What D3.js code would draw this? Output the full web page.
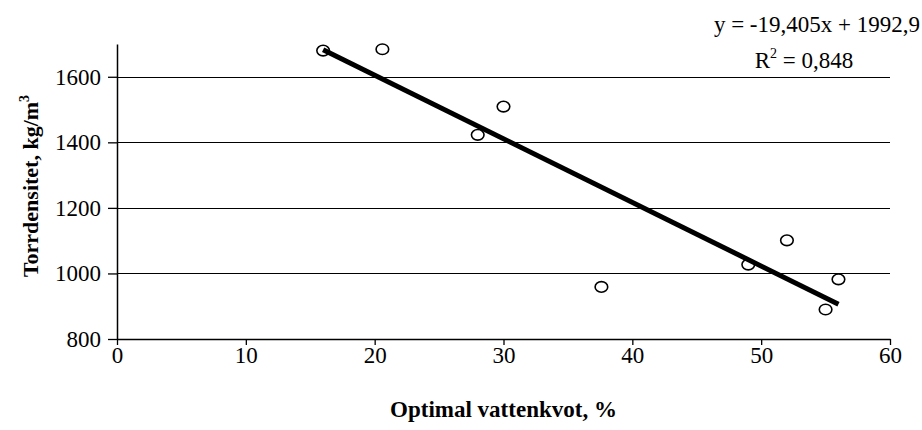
<!DOCTYPE html>
<html>
<head>
<meta charset="utf-8">
<script src="https://cdn.jsdelivr.net/npm/d3@7"></script>
<style>
  body { margin: 0; background: #fff; }
  svg { display: block; }
  text { font-family: "Liberation Serif", "Times New Roman", serif; fill: #000; }
</style>
</head>
<body>
<div id="chart"></div>
<script>
// measured points: optimal water ratio (%) vs dry density (kg/m3)
const vattenkvot = [16, 20.6, 28, 30, 37.6, 49, 52, 55, 56];
const torrdensitet = [1680, 1684, 1423, 1509, 959, 1027, 1101, 890, 982];

// trendline as printed on the chart
const slope = -19.405;
const intercept = 1992.9;
const eqLabel = "y = -19,405x + 1992,9";
const r2Label = "0,848";

const xTicks = [0, 10, 20, 30, 40, 50, 60];
const yTicks = [800, 1000, 1200, 1400, 1600];

const W = 922, H = 430;
const margin = {top: 44, right: 32, bottom: 91, left: 117};
const width = W - margin.left - margin.right;
const height = H - margin.top - margin.bottom;

const svg = d3.select("#chart").append("svg")
  .attr("width", W)
  .attr("height", H);

const g = svg.append("g")
  .attr("transform", `translate(${margin.left},${margin.top})`);

const x = d3.scaleLinear().domain([0, 60]).range([0, width]);
const y = d3.scaleLinear().domain([800, 1700]).range([height, 0]);

// gridlines
g.append("g")
  .selectAll("line")
  .data(yTicks.slice(1))
  .enter().append("line")
  .attr("x1", 0)
  .attr("x2", width)
  .attr("y1", d => Math.round(y(d)) + 0.5)
  .attr("y2", d => Math.round(y(d)) + 0.5)
  .attr("stroke", "#000")
  .attr("stroke-width", 1);

// x axis
const xAxis = g.append("g")
  .attr("transform", `translate(0,${height})`)
  .call(d3.axisBottom(x).tickValues(xTicks).tickFormat(d3.format("d")).tickSize(6).tickPadding(2).tickSizeOuter(0))
  .attr("font-family", null)
  .attr("font-size", null);
xAxis.select(".domain").attr("stroke-width", 1.5);
xAxis.selectAll(".tick line").attr("stroke-width", 1.3);
xAxis.selectAll("text").style("font-size", "23px");

// y axis
const yAxis = g.append("g")
  .call(d3.axisLeft(y).tickValues(yTicks).tickFormat(d3.format("d")).tickSize(9).tickPadding(7).tickSizeOuter(0))
  .attr("font-family", null)
  .attr("font-size", null);
yAxis.select(".domain").attr("stroke-width", 1.5);
yAxis.selectAll(".tick line").attr("stroke-width", 1.3);
yAxis.selectAll("text").style("font-size", "23px");

// trendline
const xr = d3.extent(vattenkvot);
g.append("line")
  .attr("x1", x(xr[0]))
  .attr("y1", y(slope * xr[0] + intercept))
  .attr("x2", x(xr[1]))
  .attr("y2", y(slope * xr[1] + intercept))
  .attr("stroke", "#000")
  .attr("stroke-width", 5);

// markers
g.selectAll(".pt")
  .data(vattenkvot)
  .enter().append("ellipse")
  .attr("class", "pt")
  .attr("cx", d => x(d))
  .attr("cy", (d, i) => y(torrdensitet[i]))
  .attr("rx", 6.3)
  .attr("ry", 5.3)
  .attr("fill", "none")
  .attr("stroke", "#000")
  .attr("stroke-width", 1.6);

// equation
svg.append("text")
  .attr("x", 920)
  .attr("y", 32)
  .attr("text-anchor", "end")
  .style("font-size", "23px")
  .text(eqLabel);

const r2 = svg.append("text")
  .attr("x", 804)
  .attr("y", 68)
  .attr("text-anchor", "middle")
  .style("font-size", "23px");
r2.append("tspan").text("R");
r2.append("tspan").attr("dy", -10).style("font-size", "14px").text("2");
r2.append("tspan").attr("dy", 10).text(" = " + r2Label);

// axis titles
svg.append("text")
  .attr("x", margin.left + width / 2)
  .attr("y", 417)
  .attr("text-anchor", "middle")
  .style("font-size", "23px")
  .style("font-weight", "bold")
  .text("Optimal vattenkvot, %");

const yt = svg.append("text")
  .attr("transform", `translate(38,186) rotate(-90)`)
  .attr("text-anchor", "middle")
  .style("font-size", "22px")
  .style("font-weight", "bold");
yt.append("tspan").text("Torrdensitet, kg/m");
yt.append("tspan").attr("dy", -9).style("font-size", "14px").text("3");
</script>
</body>
</html>
